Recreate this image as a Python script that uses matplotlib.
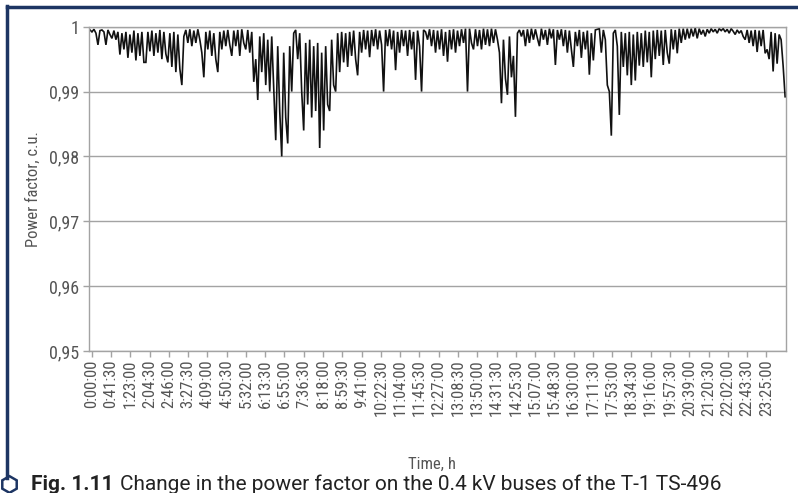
import numpy as np
import matplotlib
matplotlib.use("Agg")
import matplotlib.pyplot as plt
from matplotlib import font_manager
from matplotlib.lines import Line2D

# ---------------- data ----------------
tick_labels = ["0:00:00", "0:41:30", "1:23:00", "2:04:30", "2:46:00", "3:27:30",
               "4:09:00", "4:50:30", "5:32:00", "6:13:30", "6:55:00", "7:36:30",
               "8:18:00", "8:59:30", "9:41:00", "10:22:30", "11:04:00", "11:45:30",
               "12:27:00", "13:08:30", "13:50:00", "14:31:30", "14:25:30", "15:07:00",
               "15:48:30", "16:30:00", "17:11:30", "17:53:00", "18:34:30", "19:16:00",
               "19:57:30", "20:39:00", "21:20:30", "22:02:00", "22:43:30", "23:25:00"]

# power-factor deficit below 1.0, in units of 1e-4, read evenly across the day
pf_deficit = [
    5, 8, 4, 10, 28, 6, 5, 8, 28, 5, 12, 18, 6, 20, 8, 43, 10, 35, 8, 48, 12, 40, 6, 52, 10, 45, 8, 55,
    55, 8, 38, 6, 45, 10, 40, 5, 50, 8, 42, 55, 10, 62, 8, 70, 12, 65, 90, 15, 5, 25, 4, 30, 6, 25, 4, 20,
    40, 78, 8, 35, 6, 45, 10, 50, 70, 8, 35, 6, 30, 5, 28, 45, 6, 30, 5, 45, 4, 25, 35, 5, 40, 8, 85, 50,
    113, 15, 70, 10, 90, 20, 100, 15, 95, 175, 30, 130, 200, 40, 140, 180, 30, 100, 10, 5, 50,
    10, 100, 160, 25, 120, 20, 140, 30, 130, 25, 187, 40, 160, 30, 120, 130, 20, 90, 100, 10, 70,
    8, 55, 10, 62, 8, 45, 6, 50, 75, 8, 40, 5, 35, 6, 47, 5, 30, 4, 35, 6, 28, 100, 5,
    30, 4, 35, 6, 67, 8, 40, 5, 30, 6, 45, 5, 35, 8, 82, 6, 30, 100, 5, 8, 20, 4,
    30, 5, 40, 6, 35, 4, 45, 8, 54, 5, 35, 4, 40, 6, 30, 4, 25, 3, 100, 3, 25, 35, 4, 30,
    5, 35, 3, 28, 4, 30, 3, 25, 4, 20, 40,
    118, 20, 80, 105, 15, 78, 45, 139, 10, 5,
    15, 5, 30, 4, 25, 3, 20, 4, 18, 30, 3, 20, 5, 28, 3, 18, 4, 59, 5, 20,
    4, 30, 5, 40, 6, 35, 62, 8, 30, 5, 48, 8, 35, 6, 74, 10, 52, 5, 4, 3,
    40, 5, 20, 90, 100, 168, 10, 5, 30, 136, 8, 62, 10, 75, 8, 90, 12, 83, 8, 60,
    10, 62, 6, 55, 8, 78, 6, 50, 5, 45,
    6, 59, 5, 40, 57, 4, 35, 5, 41, 3, 25, 3, 20, 3, 18, 3, 15, 2, 18, 3,
    12, 5, 15, 4, 10, 3, 8, 4, 10, 3, 6, 3, 8, 4, 10, 3, 7, 12, 5, 10, 6, 15,
    20, 5, 25, 6, 30, 5, 39, 6, 30, 5, 41, 35, 50, 8, 69, 10, 57, 12, 20, 60, 108,
]
pf = 1.0 - np.array(pf_deficit) / 10000.0

y_ticks = [0.95, 0.96, 0.97, 0.98, 0.99, 1.00]
y_tick_labels = ["0,95", "0,96", "0,97", "0,98", "0,99", "1"]

# ---------------- fonts ----------------
def pick_font(cands):
    for c in cands:
        try:
            font_manager.findfont(font_manager.FontProperties(family=c),
                                  fallback_to_default=False)
            return c
        except Exception:
            pass
    return "DejaVu Sans"

narrow = pick_font(["Liberation Sans Narrow", "Roboto Condensed", "DejaVu Sans"])
stretch = "condensed" if narrow == "DejaVu Sans" else "normal"
plt.rcParams["font.family"] = [narrow, "DejaVu Sans"]
plt.rcParams["font.stretch"] = stretch
cap_font = pick_font(["Roboto", "Liberation Sans", "DejaVu Sans"])

# ---------------- figure ----------------
W, H = 798, 493
fig = plt.figure(figsize=(W / 100, H / 100), dpi=100)
fig.patch.set_facecolor("white")

ax_l, ax_r, ax_t, ax_b = 89.3, 785.5, 26.7, 351.0
ax = fig.add_axes([ax_l / W, 1 - ax_b / H, (ax_r - ax_l) / W, (ax_b - ax_t) / H])

n = len(pf)
x_start, x_end = -0.09, 35.97   # in tick-label units
x = np.linspace(x_start, x_end, n)
ax.plot(x, pf, color="#111111", lw=1.2, solid_joinstyle="miter")

ax.set_xlim(-0.124, 35.99)
ax.set_ylim(0.95, 1.0)
ax.set_yticks(y_ticks)
ax.set_yticklabels(y_tick_labels)
ax.set_xticks(range(len(tick_labels)))
ax.set_xticklabels(tick_labels, rotation=90)

grid_c = "#a3a3a3"
ax.set_axisbelow(True)
ax.yaxis.grid(True, color=grid_c, lw=1.0)
for s in ax.spines.values():
    s.set_color(grid_c)
    s.set_linewidth(1.0)
ax.tick_params(axis="both", direction="out", length=4, width=1, color=grid_c,
               labelcolor="#555555")
ax.tick_params(axis="x", labelsize=12, pad=2)
ax.tick_params(axis="y", labelsize=13, pad=3)

ax.set_ylabel("Power factor, c.u.", fontsize=12, color="#555555")
ax.yaxis.set_label_coords((41 - ax_l) / (ax_r - ax_l), 0.5)

fig.text(432 / W, 1 - 464 / H, "Time, h", ha="center", va="center",
         fontsize=12, color="#555555")

# frame
navy = "#1d3563"
fig.add_artist(Line2D([6.5 / W, 1.0], [1 - 6.5 / H, 1 - 6.5 / H],
                      transform=fig.transFigure, color=navy, lw=2.5))
fig.add_artist(Line2D([6.5 / W, 6.5 / W], [1 - 5.5 / H, 1 - 478 / H],
                      transform=fig.transFigure, color=navy, lw=2.5))

# caption
cy_base = 1 - 490.0 / H
fig.add_artist(Line2D([9 / W], [1 - 484 / H], transform=fig.transFigure, marker="h",
                      markersize=12, markerfacecolor="none",
                      markeredgecolor=navy, markeredgewidth=1.8, linestyle="none"))
t1 = fig.text(31 / W, cy_base, "Fig. 1.11", ha="left", va="baseline", fontsize=15,
              fontweight="bold", color="#222222", family=[cap_font, "DejaVu Sans"])
fig.canvas.draw()
bb = t1.get_window_extent(renderer=fig.canvas.get_renderer())
fig.text((bb.x1 + 6) / W, cy_base,
         "Change in the power factor on the 0.4 kV buses of the T-1 TS-496",
         ha="left", va="baseline", fontsize=15, color="#222222",
         family=[cap_font, "DejaVu Sans"])

fig.savefig("out.png", dpi=100)
